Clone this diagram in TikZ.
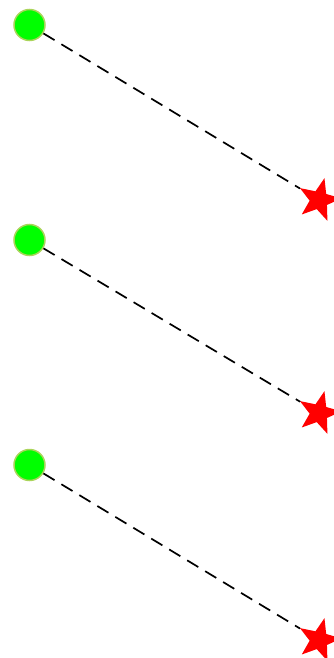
\documentclass[tikz,border=0pt]{standalone}
\usetikzlibrary{shapes.geometric}
\definecolor{dotgreen}{RGB}{0,255,0}
\definecolor{rimgreen}{RGB}{170,212,90}

\begin{document}
\begin{tikzpicture}[
  x=1pt, y=-1pt,
  dot/.style={circle, fill=dotgreen, draw=rimgreen, line width=1.5pt,
    minimum size=31pt, inner sep=0pt},
  goal/.style={star, star points=5, star point ratio=2.4, fill=red,
    minimum size=45pt, inner sep=0pt, shape border rotate=-14},
  link/.style={draw=black, line width=1.7pt, dash pattern=on 13pt off 8pt}]
  \useasboundingbox (0,0) rectangle (333,658);
  \foreach \i/\ya/\yb in {1/25/200, 2/240/413, 3/465/640} {
    \node[dot] (c\i) at (29.5,\ya) {};
    \node[goal] (s\i) at (319,\yb) {};
    \draw[link] (c\i) -- (s\i);
  }
\end{tikzpicture}
\end{document}
